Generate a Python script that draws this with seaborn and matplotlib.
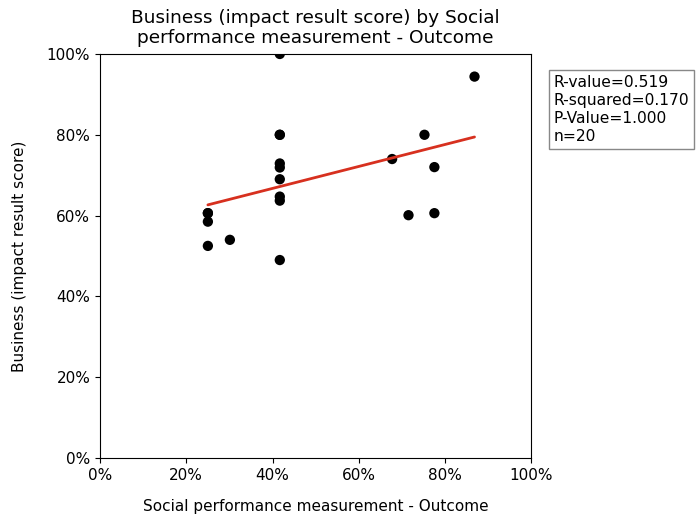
import matplotlib
matplotlib.use("Agg")
import matplotlib.pyplot as plt
from matplotlib.ticker import PercentFormatter, MultipleLocator
import seaborn as sns
import pandas as pd

# Social performance measurement - Outcome (%)
outcome = [25.0, 25.0, 25.0, 25.0, 30.1,
           41.67, 41.67, 41.67, 41.67, 41.67, 41.67, 41.67, 41.67, 41.67,
           86.8, 75.2, 67.7, 77.5, 71.5, 77.5]
# Business (impact result score) (%)
business = [60.6, 60.6, 58.5, 52.5, 54.0,
            100.0, 80.0, 80.0, 72.9, 71.9, 69.0, 64.7, 63.7, 49.0,
            94.4, 80.0, 74.0, 72.0, 60.1, 60.6]

stats_lines = ["R-value=0.519", "R-squared=0.170", "P-Value=1.000", "n=20"]

df = pd.DataFrame({"outcome": outcome, "business": business})

sns.set_style("ticks")
plt.rcParams["font.family"] = ["DejaVu Sans"]
plt.rcParams["text.color"] = "black"
plt.rcParams["axes.labelcolor"] = "black"
plt.rcParams["xtick.color"] = "black"
plt.rcParams["ytick.color"] = "black"

fig = plt.figure(figsize=(6.97, 5.18), dpi=100)
ax = fig.add_axes([0.1435, 0.1158, 0.619, 0.78])

sns.scatterplot(data=df, x="outcome", y="business", ax=ax, color="black",
                s=55, edgecolor="none", zorder=2)
sns.regplot(data=df, x="outcome", y="business", ax=ax, scatter=False, ci=None,
            line_kws={"color": "#d7301f", "linewidth": 2, "zorder": 3})

ax.set_xlim(0, 100)
ax.set_ylim(0, 100)
ax.xaxis.set_major_locator(MultipleLocator(20))
ax.yaxis.set_major_locator(MultipleLocator(20))
ax.xaxis.set_major_formatter(PercentFormatter(xmax=100, decimals=0))
ax.yaxis.set_major_formatter(PercentFormatter(xmax=100, decimals=0))
ax.tick_params(labelsize=11, colors="black", labelcolor="black")
for side in ["top", "right", "left", "bottom"]:
    ax.spines[side].set_visible(True)
    ax.spines[side].set_color("black")
    ax.spines[side].set_linewidth(0.8)

ax.set_xlabel("Social performance measurement - Outcome", fontsize=11,
              labelpad=12)
ax.set_ylabel("Business (impact result score)", fontsize=11, labelpad=14)
ax.set_title("Business (impact result score) by Social\nperformance measurement - Outcome",
             fontsize=13.3, pad=8, linespacing=1.1)

fig.text(0.794, 0.855, "\n".join(stats_lines), fontsize=11.2, va="top", ha="left",
         linespacing=1.25,
         bbox=dict(boxstyle="square,pad=0.3", facecolor="white",
                   edgecolor="#888888", linewidth=1))

fig.savefig("out.png", dpi=100)
